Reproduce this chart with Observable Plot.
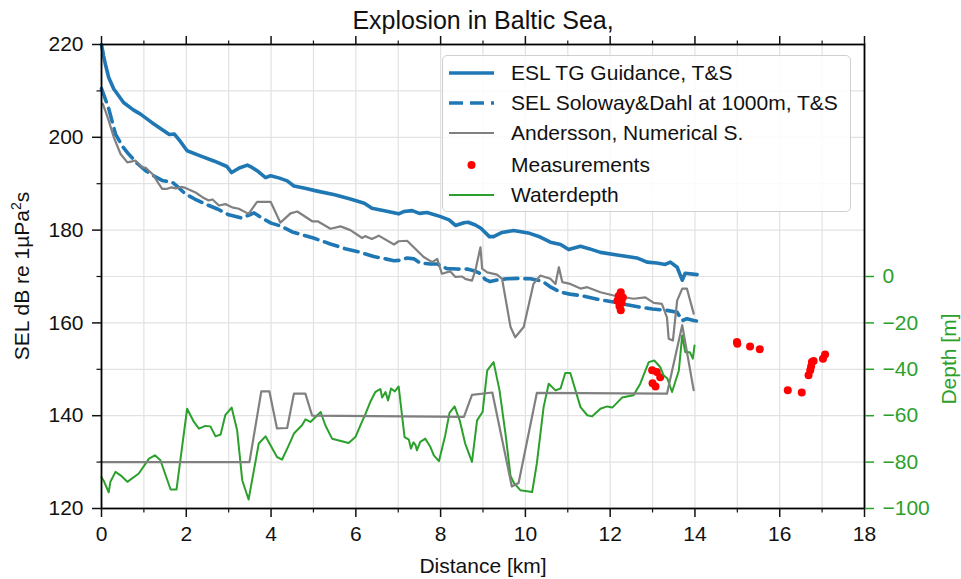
<!DOCTYPE html>
<html>
<head>
<meta charset="utf-8">
<script src="https://cdn.jsdelivr.net/npm/d3@7"></script>
<script src="https://cdn.jsdelivr.net/npm/@observablehq/plot@0.6"></script>
<style>
  html, body { margin: 0; padding: 0; background: white; }
  #wrap { position: relative; width: 961px; height: 579px; font-family: 'Liberation Sans', Arial, sans-serif; }
  #legend { position: absolute; left: 442px; top: 55px; width: 407px; height: 155px;
            border: 1.5px solid #d0d0d0; border-radius: 5px; background: rgba(255,255,255,0.85); }
  .row { position: absolute; left: 0; height: 30px; width: 100%; }
  .row svg { position: absolute; left: 6px; top: 0; }
  .row span { position: absolute; left: 68px; top: 0; line-height: 30px; font-size: 21px; color: #111; white-space: nowrap; }
  #ylab { position: absolute; left: -178px; top: 262px; width: 400px; height: 28px; line-height: 28px;
          text-align: center; font-size: 21px; color: #111; transform: rotate(-90deg); transform-origin: 200px 14px; white-space: nowrap; }
  #ylab sup { font-size: 14px; vertical-align: 0; position: relative; top: -8px; }
</style>
</head>
<body>
<div id="wrap"></div>
<script>
// ---------------- data ----------------
const title = "Explosion in Baltic Sea,";
const xLabel = "Distance [km]";
const yLabelParts = ["SEL dB re 1µPa", "2", "s"];   // base, superscript, tail
const y2Label = "Depth [m]";
const legendLabels = ["ESL TG Guidance, T&S", "SEL Soloway&Dahl at 1000m, T&S", "Andersson, Numerical S.", "Measurements", "Waterdepth"];

const xMajorTicks = [0, 2, 4, 6, 8, 10, 12, 14, 16, 18];
const xMinorTicks = [1, 3, 5, 7, 9, 11, 13, 15, 17];
const yMajorTicks = [120, 140, 160, 180, 200, 220];
const yMinorTicks = [130, 150, 170, 190, 210];
const depthTicks = [-100, -80, -60, -40, -20, 0];

// [distance km, SEL dB]
const eslTG = [[0,220],[0.05,217.5],[0.09,215.8],[0.17,212.9],[0.29,210.4],[0.52,207.5],[0.75,205.9],[0.92,205.0],[1.2,203.1],[1.47,201.4],[1.6,200.6],[1.72,200.7],[1.86,199.1],[2.02,197.1],[2.33,196.0],[2.65,194.9],[2.96,193.7],[3.07,192.4],[3.25,193.4],[3.44,194.0],[3.55,193.5],[3.67,192.8],[3.87,191.3],[3.99,191.7],[4.2,191.2],[4.38,190.6],[4.54,189.5],[4.8,189.0],[5.09,188.4],[5.5,187.6],[5.87,186.7],[6.2,185.8],[6.38,184.7],[6.7,184.1],[7.01,183.5],[7.13,184.0],[7.33,184.2],[7.5,183.6],[7.68,183.8],[8.0,182.9],[8.2,182.2],[8.35,181.0],[8.55,181.6],[8.65,181.7],[8.82,181.1],[8.95,180.4],[9.15,178.6],[9.25,178.6],[9.45,179.5],[9.72,179.9],[10.1,179.3],[10.35,178.5],[10.59,177.4],[10.83,176.9],[11.02,175.8],[11.3,176.5],[11.5,176.0],[11.77,175.2],[12.2,174.6],[12.63,174.0],[12.87,173.1],[13.1,172.9],[13.3,172.6],[13.42,173.1],[13.58,172.0],[13.7,169.2],[13.77,170.7],[14.05,170.4]];

const selSoloway = [[0,210.5],[0.08,208.5],[0.17,206.2],[0.33,200.7],[0.5,198.0],[0.64,196.4],[0.85,194.3],[1.04,192.8],[1.25,191.6],[1.43,190.7],[1.55,190.5],[1.67,190.3],[1.8,189.3],[1.98,187.8],[2.2,186.7],[2.45,185.6],[2.75,184.5],[3.0,183.3],[3.3,182.6],[3.47,183.2],[3.6,183.7],[3.75,182.8],[4.0,181.5],[4.22,180.9],[4.5,179.6],[4.69,179.1],[5.0,178.3],[5.4,177.0],[5.75,176.0],[6.11,175.2],[6.42,174.3],[6.7,173.8],[6.9,173.4],[7.05,173.5],[7.21,174.0],[7.37,173.8],[7.52,172.9],[7.76,172.7],[7.92,172.7],[8.15,171.7],[8.4,171.6],[8.63,171.6],[8.8,171.2],[8.94,170.6],[9.05,169.4],[9.17,168.9],[9.35,169.3],[9.57,169.5],[9.85,169.6],[10.12,169.5],[10.3,169.2],[10.43,168.8],[10.6,167.7],[10.83,166.6],[11.05,166.2],[11.3,165.9],[11.7,165.1],[12.08,164.5],[12.4,163.9],[12.71,163.4],[13.0,163.0],[13.34,162.7],[13.58,162.3],[13.7,160.5],[13.81,160.9],[13.97,160.5],[14.05,160.4]];

const andersson = [[0.03,207.2],[0.1,205.5],[0.17,203.6],[0.29,200.0],[0.45,196.4],[0.61,194.6],[0.72,194.8],[0.8,195.0],[0.96,193.5],[1.05,193.4],[1.2,192.1],[1.43,188.9],[1.55,188.9],[1.65,189.2],[1.75,189.0],[1.88,189.3],[1.98,189.1],[2.22,188.1],[2.38,187.1],[2.53,186.4],[2.62,186.6],[2.77,185.3],[2.92,185.6],[3.08,184.9],[3.24,184.6],[3.47,183.5],[3.67,186.1],[3.99,186.1],[4.22,181.6],[4.46,183.6],[4.62,184.0],[4.97,181.9],[5.1,181.9],[5.4,180.3],[5.64,180.8],[5.87,180.0],[6.15,178.3],[6.22,178.7],[6.38,178.1],[6.54,178.8],[6.9,176.9],[7.01,177.6],[7.21,177.7],[7.6,174.2],[7.8,173.1],[7.92,173.8],[8.03,170.6],[8.23,171.1],[8.35,169.9],[8.51,170.0],[8.58,169.5],[8.74,169.1],[8.82,171.3],[8.94,176.3],[8.98,171.7],[9.1,170.9],[9.33,170.4],[9.45,169.5],[9.65,159.1],[9.76,156.9],[9.96,159.1],[10.19,168.4],[10.35,170.2],[10.59,169.5],[10.71,168.4],[10.79,172.0],[10.87,168.8],[11.06,168.4],[11.3,167.4],[11.46,167.7],[11.77,166.6],[12.08,165.9],[12.55,165.2],[12.83,165.5],[13.03,164.3],[13.22,164.1],[13.34,161.2],[13.38,156.6],[13.48,156.2],[13.58,164.8],[13.7,167.4],[13.81,167.4],[13.97,162.0]];

// [distance km, SEL dB]
const measurements = [[12.25,166.6],[12.2,165.8],[12.3,165.5],[12.17,164.8],[12.27,164.3],[12.22,163.6],[12.25,162.7],[12.99,149.8],[13.1,149.4],[13.18,148.3],[13.0,147.0],[13.07,146.3],[14.99,155.9],[15.0,155.5],[15.3,154.9],[15.53,154.3],[16.19,145.5],[16.52,145.0],[16.68,148.7],[16.72,149.8],[16.74,150.6],[16.76,151.6],[16.8,151.8],[17.02,152.3],[17.07,153.2]];

// [distance km, depth m] (right axis)
const waterdepth = [[0,-86.5],[0.05,-88],[0.17,-93],[0.21,-88.5],[0.33,-84.2],[0.45,-85.7],[0.61,-88.5],[0.88,-84.9],[1.12,-78.5],[1.26,-77.1],[1.39,-79.2],[1.63,-91.8],[1.77,-91.8],[2.02,-57.0],[2.18,-62.7],[2.3,-65.6],[2.45,-64.4],[2.57,-64.6],[2.69,-68.9],[2.81,-68.1],[2.92,-59.8],[3.07,-56.5],[3.2,-66.3],[3.32,-87.8],[3.47,-96.1],[3.71,-72.0],[3.87,-68.9],[4.14,-77.8],[4.26,-78.9],[4.42,-72.7],[4.54,-67.7],[4.73,-64.1],[4.81,-61.6],[4.93,-62.7],[5.17,-58.4],[5.28,-64.1],[5.44,-69.9],[5.83,-71.8],[5.99,-69.2],[6.11,-64.1],[6.23,-59.1],[6.34,-54.1],[6.46,-49.8],[6.52,-49.1],[6.58,-48.5],[6.62,-52.2],[6.7,-49.8],[6.76,-53.4],[6.83,-48.3],[6.92,-49.5],[7.01,-47.4],[7.15,-69.2],[7.25,-70.3],[7.3,-74.2],[7.36,-71.5],[7.41,-72.7],[7.44,-74.9],[7.52,-71.3],[7.64,-69.9],[7.76,-73.5],[7.84,-77.1],[7.96,-79.6],[8.11,-68.4],[8.21,-58.8],[8.33,-56.0],[8.45,-62.0],[8.58,-72.0],[8.74,-79.9],[8.86,-62.0],[8.99,-58.4],[9.1,-40.5],[9.25,-36.9],[9.39,-49.1],[9.53,-67.7],[9.65,-86],[9.73,-89],[9.88,-92.1],[10.16,-92.9],[10.27,-80.6],[10.43,-56.3],[10.55,-46.2],[10.71,-49.1],[10.83,-48.3],[10.94,-41.6],[11.06,-41.6],[11.3,-56.3],[11.46,-59.8],[11.57,-60.3],[11.77,-57.0],[11.93,-56.0],[12.05,-56.5],[12.28,-52.2],[12.55,-51.2],[12.71,-46.2],[12.91,-36.9],[13.04,-36.2],[13.18,-39.0],[13.26,-42.6],[13.35,-44],[13.46,-49.8],[13.62,-40.5],[13.7,-25.4],[13.77,-32.6],[13.88,-32.6],[13.95,-35.4],[13.99,-29.7]];

// model bathymetry (gray, right axis), [distance km, depth m]
const modelDepth = [[0,-80],[3.49,-80],[3.77,-49.5],[3.96,-49.5],[4.14,-65.5],[4.38,-65.3],[4.54,-50.5],[4.81,-50.5],[4.97,-60],[8.55,-60.5],[8.74,-51],[9.22,-50],[9.68,-90.5],[9.84,-89],[10.27,-50.2],[13.34,-50.5],[13.7,-21],[13.97,-49]];

// ---------------- styles ----------------
const blue = "#1f77b4", gray = "#808080", green = "#2ca02c", red = "#ff0000";

// twin axis: depth domain [-100, 100] shares the frame with SEL [120, 220]
const depthToSel = d3.scaleLinear().domain([-100, 100]).range([120, 220]);
const fmt = d3.format("d");

const chart = Plot.plot({
  width: 961, height: 579,
  marginLeft: 101, marginRight: 97, marginTop: 44, marginBottom: 71,
  x: {domain: [0, 18]},
  y: {domain: [120, 220]},
  style: {fontFamily: "'Liberation Sans', Arial, sans-serif", fontSize: "21px", background: "white", overflow: "visible", color: "#111"},
  marks: [
    Plot.ruleX(d3.range(0, 19, 1), {stroke: "#e2e2e2", strokeWidth: 1.2}),
    Plot.ruleY(d3.range(120, 221, 10), {stroke: "#e2e2e2", strokeWidth: 1.2}),
    Plot.line(eslTG, {x: d => d[0], y: d => d[1], stroke: blue, strokeWidth: 3.6, strokeLinejoin: "round"}),
    Plot.line(selSoloway, {x: d => d[0], y: d => d[1], stroke: blue, strokeWidth: 3.6, strokeDasharray: "14,7", strokeLinejoin: "round"}),
    Plot.line(andersson, {x: d => d[0], y: d => d[1], stroke: gray, strokeWidth: 2.2, strokeLinejoin: "round"}),
    Plot.dot(measurements, {x: d => d[0], y: d => d[1], r: 4, fill: red, stroke: "none"}),
    Plot.line(waterdepth, {x: d => d[0], y: d => depthToSel(d[1]), stroke: green, strokeWidth: 2, strokeLinejoin: "round"}),
    Plot.line(modelDepth, {x: d => d[0], y: d => depthToSel(d[1]), stroke: gray, strokeWidth: 2.2, strokeLinejoin: "round"}),
    Plot.frame({stroke: "#000", strokeWidth: 1.8}),
    Plot.axisX({ticks: xMajorTicks, tickSize: 9, tickPadding: 9, strokeWidth: 1.5, label: null}),
    Plot.axisX({ticks: xMinorTicks, tickSize: 4.5, tickFormat: () => "", strokeWidth: 1.2, label: null}),
    Plot.axisX({anchor: "top", ticks: xMajorTicks, tickSize: 9, tickFormat: () => "", strokeWidth: 1.5, label: null}),
    Plot.axisX({anchor: "top", ticks: xMinorTicks, tickSize: 4.5, tickFormat: () => "", strokeWidth: 1.2, label: null}),
    Plot.axisY({ticks: yMajorTicks, tickSize: 9, tickPadding: 9, strokeWidth: 1.5, label: null}),
    Plot.axisY({ticks: yMinorTicks, tickSize: 4.5, tickFormat: () => "", strokeWidth: 1.2, label: null}),
    Plot.axisY({anchor: "right", ticks: depthTicks.map(d => depthToSel(d)), tickSize: 9, tickPadding: 9, strokeWidth: 1.5,
      tickFormat: v => fmt(Math.round(depthToSel.invert(v))), color: green, label: null}),
    Plot.text([title], {text: d => d, frameAnchor: "top", dy: -16, lineAnchor: "bottom", fontSize: 25, fill: "#111"}),
    Plot.text([xLabel], {text: d => d, frameAnchor: "bottom", dy: 58, lineAnchor: "middle", fontSize: 21, fill: "#111"}),
    Plot.text([y2Label], {text: d => d, frameAnchor: "right", dx: 85, dy: 37, rotate: -90, lineAnchor: "middle", fontSize: 21, fill: green})
  ]
});

const wrap = document.getElementById("wrap");
wrap.appendChild(chart);

// ---------------- y label with superscript ----------------
const ylab = document.createElement("div");
ylab.id = "ylab";
ylab.appendChild(document.createTextNode(yLabelParts[0]));
const sup = document.createElement("sup");
sup.textContent = yLabelParts[1];
ylab.appendChild(sup);
ylab.appendChild(document.createTextNode(yLabelParts[2]));
wrap.appendChild(ylab);

// ---------------- legend ----------------
const legend = document.createElement("div");
legend.id = "legend";
const rowTops = [2, 32, 62, 93.5, 123.5];
const swatches = [
  `<line x1="0" y1="15" x2="45" y2="15" stroke="${blue}" stroke-width="3.6"/>`,
  `<line x1="0" y1="15" x2="45" y2="15" stroke="${blue}" stroke-width="3.6" stroke-dasharray="14,7"/>`,
  `<line x1="0" y1="15" x2="45" y2="15" stroke="${gray}" stroke-width="2.2"/>`,
  `<circle cx="22.5" cy="15" r="4" fill="${red}"/>`,
  `<line x1="0" y1="15" x2="45" y2="15" stroke="${green}" stroke-width="2"/>`
];
legendLabels.forEach((lab, i) => {
  const row = document.createElement("div");
  row.className = "row";
  row.style.top = rowTops[i] + "px";
  row.innerHTML = `<svg width="46" height="30">${swatches[i]}</svg><span></span>`;
  row.querySelector("span").textContent = lab;
  legend.appendChild(row);
});
wrap.appendChild(legend);
</script>
</body>
</html>
